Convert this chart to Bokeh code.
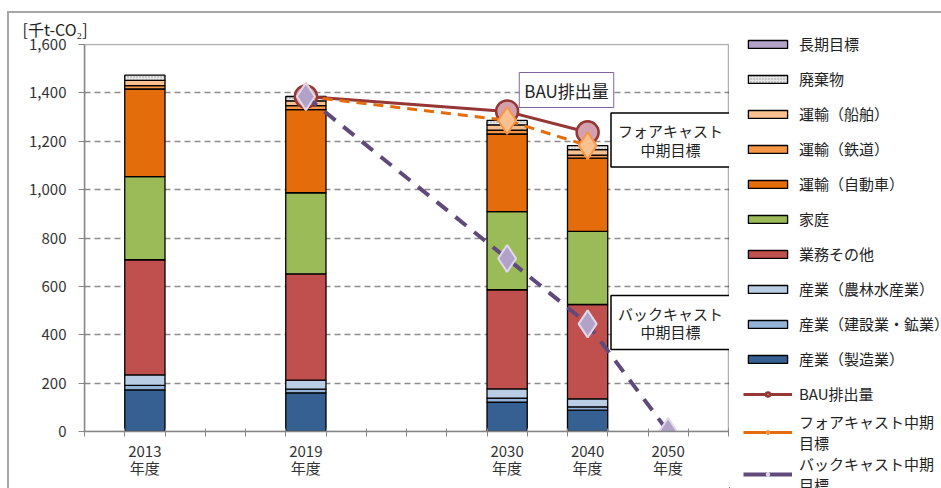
from bokeh.plotting import figure
from bokeh.layouts import row
from bokeh.models import (ColumnDataSource, FixedTicker, NumeralTickFormatter, Legend,
                          LegendItem, Label, BoxAnnotation, Range1d, Title)
from bokeh.transform import stack
from bokeh.embed import file_html
from bokeh.resources import INLINE

# ---------------- data ----------------
year_labels = ["2013\n年度", "2019\n年度", "2030\n年度", "2040\n年度", "2050\n年度"]
year_slots = [1, 5, 10, 12, 14]          # slot index on the 16-slot category axis
n_slots = 16

bar_years = ["2013", "2019", "2030", "2040"]
manufacturing = [172, 160, 121, 88]      # 産業（製造業）
construction = [19, 15, 17, 14]          # 産業（建設業・鉱業）
agriculture = [43, 37, 38, 33]           # 産業（農林水産業）
commercial = [476, 440, 410, 390]        # 業務その他
household = [344, 335, 323, 302]         # 家庭
cars = [362, 344, 321, 303]              # 運輸（自動車）
rail = [14, 16, 16, 13]                  # 運輸（鉄道）
ships = [22, 20, 22, 22]                 # 運輸（船舶）
waste = [21, 18, 18, 17]                 # 廃棄物

bau_years = ["2019", "2030", "2040"]
bau = [1385, 1323, 1237]
forecast_years = ["2019", "2030", "2040"]
forecast = [1385, 1286, 1182]
backcast_years = ["2019", "2030", "2040", "2050"]
backcast = [1385, 715, 445, 0]

y_ticks = [0, 200, 400, 600, 800, 1000, 1200, 1400, 1600]
y_max = 1600

# ---------------- helpers ----------------
slot_of = {y[:4]: s for y, s in zip(year_labels, year_slots)}
def xc(years):
    return [slot_of[y] + 0.5 for y in years]

FONT = "Noto Sans CJK JP"
PX_PER_UNIT = 387 / 1600.0
PX_PER_SLOT = 644 / 16.0
FRAME_TOP = 43
FRAME_BOTTOM = 431
MAIN_W = 729
y_top = y_max + (44 - FRAME_TOP) / PX_PER_UNIT
x_right = n_slots + 1 / PX_PER_SLOT

p = figure(width=MAIN_W, height=488, min_border_left=84, min_border_top=FRAME_TOP,
           min_border_right=0, min_border_bottom=488 - FRAME_BOTTOM,
           x_range=Range1d(0, x_right), y_range=Range1d(0, y_top),
           output_backend="svg", toolbar_location=None, background_fill_color="white")
p.outline_line_color = None
p.border_fill_alpha = 0
p.xgrid.visible = False
p.ygrid.ticker = FixedTicker(ticks=y_ticks[1:-1])
p.ygrid.grid_line_color = "#8c8c8c"
p.ygrid.grid_line_dash = "6 4"
p.ygrid.grid_line_width = 1.5

# plot-area border (top/right black)
p.add_layout(BoxAnnotation(left=0, right=n_slots, bottom=0, top=y_max, fill_alpha=0,
                           line_color="black", line_width=1.5, level="underlay"))

# y axis
yax = p.yaxis[0]
yax.ticker = FixedTicker(ticks=y_ticks)
yax.formatter = NumeralTickFormatter(format="0,0")
yax.bounds = (0, y_max)
yax.axis_line_color = "#868686"
yax.axis_line_width = 1.5
yax.major_tick_line_color = "#868686"
yax.major_tick_out = 6
yax.major_tick_in = 0
yax.minor_tick_line_color = None
yax.major_label_text_font = FONT
yax.major_label_text_font_size = "15px"
yax.major_label_text_color = "#333333"
yax.major_label_standoff = 12

# x axis
xax = p.xaxis[0]
xax.ticker = FixedTicker(ticks=[s + 0.5 for s in year_slots], minor_ticks=list(range(n_slots + 1)))
xax.major_label_overrides = {s + 0.5: lab for s, lab in zip(year_slots, year_labels)}
xax.bounds = (0, n_slots)
xax.axis_line_color = "#868686"
xax.axis_line_width = 1.5
xax.major_tick_line_color = None
xax.major_tick_out = 4
xax.minor_tick_line_color = "#868686"
xax.minor_tick_in = 3
xax.minor_tick_out = 5
xax.major_label_text_font = FONT
xax.major_label_text_font_size = "15px"
xax.major_label_text_color = "#333333"
xax.major_label_text_line_height = 0.83
xax.major_label_standoff = 3

# unit title
p.add_layout(Title(text="[千t-CO₂]", align="left", offset=-62, standoff=5,
                   text_font=FONT, text_font_size="16px", text_font_style="normal",
                   text_color="#222222"), "above")

# ---------------- stacked bars ----------------
src = ColumnDataSource(dict(x=xc(bar_years), manufacturing=manufacturing, construction=construction,
                            agriculture=agriculture, commercial=commercial, household=household,
                            cars=cars, rail=rail, ships=ships, waste=waste))
series = [("manufacturing", "#376092", "産業（製造業）"),
          ("construction", "#95B3D7", "産業（建設業・鉱業）"),
          ("agriculture", "#B9CDE5", "産業（農林水産業）"),
          ("commercial", "#C0504D", "業務その他"),
          ("household", "#9BBB59", "家庭"),
          ("cars", "#E46C0A", "運輸（自動車）"),
          ("rail", "#F79646", "運輸（鉄道）"),
          ("ships", "#FAC090", "運輸（船舶）"),
          ("waste", "#E6E6E6", "廃棄物")]
HATCH = dict(hatch_pattern="dot", hatch_color="#999999", hatch_scale=3, hatch_weight=1)
done = []
for name, col, lab in series:
    kw = HATCH if name == "waste" else {}
    p.vbar(x="x", width=1.0, bottom=stack(*done), top=stack(*(done + [name])), source=src,
           fill_color=col, line_color="black", line_width=1.3, **kw)
    done.append(name)

# ---------------- lines ----------------
BAU_LINE = dict(line_color="#953735", line_width=3)
BAU_MARK = dict(marker="circle", fill_color="#D3A0AE", line_color="#953735", line_width=2.5)
FC_LINE = dict(line_color="#E46C0A", line_width=3, line_dash="10 7")
FC_MARK = dict(marker="diamond", fill_color="#FAC090", line_color="#F79646", line_width=2)
BC_LINE = dict(line_color="#604A7B", line_width=4, line_dash="14 10")
BC_MARK = dict(marker="diamond", fill_color="#B3A2C7", line_color="#E0D8EC", line_width=2)

p.line(xc(bau_years), bau, **BAU_LINE)
p.scatter(xc(bau_years), bau, size=22, **BAU_MARK)
p.line(xc(forecast_years), forecast, **FC_LINE)
p.scatter(xc(forecast_years), forecast, size=27, **FC_MARK)
p.line(xc(backcast_years), backcast, **BC_LINE)
p.scatter(xc(backcast_years), backcast, size=27, **BC_MARK)

# ---------------- text boxes ----------------
def y_of(py):
    return y_max - (py - 44) / PX_PER_UNIT
def x_of(px):
    return (px - 84) / PX_PER_SLOT

p.add_layout(Label(x=x_of(566), y=y_of(89.5), text="BAU排出量", text_font=FONT,
                   text_font_size="17px", text_align="center", text_baseline="middle",
                   text_color="#222222", background_fill_color="white",
                   border_line_color="#8064A2", border_line_width=1, padding=5))
p.add_layout(Label(x=x_of(670), y=y_of(139.5), text="フォアキャスト\n中期目標", text_font=FONT,
                   text_font_size="15px", text_align="center", text_baseline="middle",
                   text_color="#222222", background_fill_color="white", text_line_height=0.9,
                   border_line_color="black", border_line_width=1.5, padding=7))
p.add_layout(Label(x=x_of(670), y=y_of(322), text="バックキャスト\n中期目標", text_font=FONT,
                   text_font_size="15px", text_align="center", text_baseline="middle",
                   text_color="#222222", background_fill_color="white", text_line_height=0.9,
                   border_line_color="black", border_line_width=1.5, padding=7))

# ---------------- legend (separate panel figure with key-only glyphs) ----------------
LEG_W = 941 - MAIN_W
pl = figure(width=LEG_W, height=488, min_border=0, x_range=Range1d(0, 1), y_range=Range1d(0, 1),
            x_axis_type=None, y_axis_type=None, output_backend="svg", toolbar_location=None,
            title_location=None)
pl.outline_line_color = None
pl.border_fill_alpha = 0
pl.background_fill_alpha = 0
for fig in (p, pl):
    try:
        fig.frame_align = False
    except Exception:
        pass

legend_series = [("長期目標", "#B3A2C7", {})] + [
    (lab, col, HATCH if name == "waste" else {}) for name, col, lab in reversed(series)]
off = dict(x=[-5], top=[-5])   # key-only glyph, kept outside the visible range
items = []
for lab, col, kw in legend_series:
    r = pl.vbar(width=0.1, fill_color=col, line_color="black", line_width=1.3, **off, **kw)
    items.append(LegendItem(label=lab, renderers=[r]))
for lab, lkw, mkw in [("BAU排出量", BAU_LINE, BAU_MARK),
                      ("フォアキャスト中期\n目標", FC_LINE, FC_MARK),
                      ("バックキャスト中期\n目標", BC_LINE, BC_MARK)]:
    lkw2 = dict(lkw)
    lkw2.pop("line_dash", None)
    rl = pl.line(x=[-5, -4], y=[-5, -5], **lkw2)
    rm = pl.scatter(x=[-5], y=[-5], size=10, **mkw)
    items.append(LegendItem(label=lab, renderers=[rl, rm]))

ROW_H = 35
legend_h = ROW_H * 11 + 45 * 2
legend_top = 20
legend = Legend(items=items, location=(743 - MAIN_W, 488 - legend_h - legend_top),
                orientation="vertical",
                glyph_width=49, glyph_height=10, label_standoff=7, label_height=ROW_H, spacing=0,
                padding=0, margin=0, border_line_color=None, background_fill_alpha=0,
                label_text_font=FONT, label_text_font_size="15px", label_text_color="#222222")
pl.add_layout(legend, "center")

layout = row(p, pl, spacing=0)
layout.styles = {
    "background": "linear-gradient(#A6A6A6,#A6A6A6) 7px 11px / 940px 2px no-repeat, "
                  "linear-gradient(#A6A6A6,#A6A6A6) 7px 11px / 2px 480px no-repeat, white"
}

open("out.html", "w").write(file_html(layout, INLINE))
